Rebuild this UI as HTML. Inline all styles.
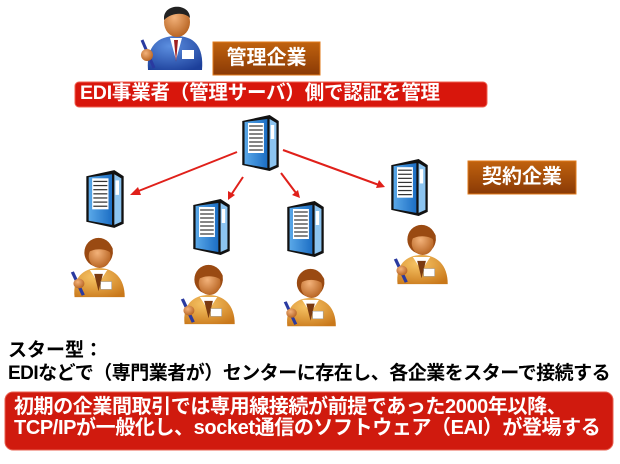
<!DOCTYPE html>
<html><head><meta charset="utf-8"><style>
html,body{margin:0;padding:0;background:#fff;}
body{width:620px;height:464px;position:relative;overflow:hidden;font-family:"Liberation Sans","Noto Sans CJK JP",sans-serif;}
.t{position:absolute;font-weight:bold;white-space:nowrap;}
</style></head><body>
<svg width="620" height="464" style="position:absolute;left:0;top:0">
<defs>
<linearGradient id="br" x1="0" y1="0" x2="0" y2="1"><stop offset="0" stop-color="#c0620e"/><stop offset="1" stop-color="#8a3a06"/></linearGradient>
<linearGradient id="sv" x1="0" y1="0" x2="1" y2="0"><stop offset="0" stop-color="#5aa8e8"/><stop offset="1" stop-color="#1c6ec4"/></linearGradient>
<radialGradient id="skin" cx="0.4" cy="0.35" r="0.7"><stop offset="0" stop-color="#f3b27a"/><stop offset="1" stop-color="#b5611f"/></radialGradient>
<radialGradient id="org" cx="0.4" cy="0.3" r="0.8"><stop offset="0" stop-color="#f7c465"/><stop offset="1" stop-color="#c9781a"/></radialGradient>
<radialGradient id="blu" cx="0.4" cy="0.3" r="0.8"><stop offset="0" stop-color="#5c8fe0"/><stop offset="1" stop-color="#1c3f9a"/></radialGradient>
<symbol id="srv" viewBox="0 0 36 60" preserveAspectRatio="none">
<polygon points="2,8 26,2 34,8 34,54 26,58 2,52" fill="#111"/>
<polygon points="4,9 24,6 24,55 4,51" fill="url(#sv)"/>
<polygon points="26,6 32,10 32,52 26,55" fill="#8cc4f0"/>
<rect x="7" y="10" width="14" height="30" fill="#fff"/>
<g stroke="#333" stroke-width="1.2"><line x1="8" y1="13" x2="20" y2="13"/><line x1="8" y1="17" x2="20" y2="17"/><line x1="8" y1="21" x2="20" y2="21"/><line x1="8" y1="25" x2="20" y2="25"/><line x1="8" y1="29" x2="20" y2="29"/><line x1="8" y1="33" x2="20" y2="33"/><line x1="8" y1="37" x2="20" y2="37"/></g>
<rect x="27" y="12" width="3" height="14" fill="#fff"/>
</symbol>
<symbol id="wom" viewBox="0 0 55 68" preserveAspectRatio="none">
<path d="M6,64 C4,44 14,34 28,34 C42,34 52,44 52,64 Z" fill="url(#org)"/>
<path d="M20,36 L28,50 L36,36 Z" fill="#fff"/>
<path d="M24,40 L28,58 L32,40 Z" fill="#7a3a10"/>
<rect x="30" y="48" width="10" height="8" fill="#fff" stroke="#999" stroke-width="0.5"/>
<ellipse cx="28" cy="18" rx="13" ry="15" fill="#9a4a12"/>
<ellipse cx="29" cy="22" rx="10" ry="12" fill="url(#skin)"/>
<path d="M16,14 C18,4 38,4 41,14 L41,20 C36,14 24,12 16,20 Z" fill="#9a4a12"/>
<line x1="4" y1="38" x2="14" y2="62" stroke="#2a3aa0" stroke-width="3"/>
<circle cx="10" cy="50" r="5" fill="url(#skin)"/>
</symbol>
</defs>
<path d="M148,70 C146,46 158,36 176,36 C194,36 204,46 202,70 Z" fill="url(#blu)"/>
<path d="M170,38 L176,60 L182,38 Z" fill="#fff"/>
<path d="M174,40 L176,62 L178,40 Z" fill="#a02020"/>
<rect x="182" y="50" width="12" height="9" fill="#fff"/>
<ellipse cx="177" cy="22" rx="13" ry="15" fill="url(#skin)"/>
<path d="M164,18 C164,3 190,3 190,18 C185,12 172,12 164,20 Z" fill="#222"/>
<line x1="142" y1="40" x2="154" y2="68" stroke="#2a3aa0" stroke-width="3"/>
<circle cx="147" cy="55" r="6" fill="url(#skin)"/>
<rect x="213" y="42" width="107" height="33" fill="url(#br)" stroke="#e07a1a" stroke-width="1"/>
<rect x="468" y="161" width="108" height="33" fill="url(#br)" stroke="#e07a1a" stroke-width="1"/>
<rect x="75" y="82" width="412" height="25" rx="4" fill="#d8160c" stroke="#f06050" stroke-width="1"/>
<rect x="5" y="392" width="608" height="58" rx="8" fill="#d01a0e" stroke="#e86050" stroke-width="1"/>
<use href="#srv" x="240" y="113" width="41" height="60"/>
<use href="#srv" x="84" y="168" width="42" height="62"/>
<use href="#srv" x="191" y="197" width="41" height="60"/>
<use href="#srv" x="285" y="199" width="41" height="60"/>
<use href="#srv" x="389" y="157" width="41" height="61"/>
<g stroke="#e0201a" stroke-width="2" fill="#e0201a">
<line x1="237" y1="152" x2="136" y2="192"/><polygon points="130,195 138,187 141,195" stroke="none"/>
<line x1="243" y1="177" x2="231" y2="195"/><polygon points="228,200 228,191 235,195" stroke="none"/>
<line x1="281" y1="173" x2="296" y2="193"/><polygon points="300,198 292,195 298,190" stroke="none"/>
<line x1="283" y1="150" x2="379" y2="185"/><polygon points="385,187 376,188 379,180" stroke="none"/>
</g>
<use href="#wom" x="68" y="235" width="60" height="66"/>
<use href="#wom" x="178" y="262" width="60" height="66"/>
<use href="#wom" x="281" y="266" width="58" height="64"/>
<use href="#wom" x="391" y="222" width="60" height="66"/>
</svg>
<div class="t" style="left:213px;width:107px;text-align:center;top:42px;line-height:33px;font-size:20px;color:#fff;">管理企業</div>
<div class="t" style="left:468px;width:108px;text-align:center;top:161px;line-height:33px;font-size:20px;color:#fff;">契約企業</div>
<div class="t" style="left:80px;top:81px;line-height:25px;font-size:19.5px;color:#fff;letter-spacing:-0.2px;">EDI事業者（管理サーバ）側で認証を管理</div>
<div class="t" style="left:8px;top:335px;font-size:19px;color:#000;">スター型：</div>
<div class="t" style="left:8px;top:358px;font-size:19px;color:#000;letter-spacing:-0.5px;">EDIなどで（専門業者が）センターに存在し、各企業をスターで接続する</div>
<div class="t" style="left:14px;top:397px;font-size:20px;color:#fff;line-height:21px;letter-spacing:-0.4px;">初期の企業間取引では専用線接続が前提であった2000年以降、<br>TCP/IPが一般化し、socket通信のソフトウェア（EAI）が登場する</div>
</body></html>
